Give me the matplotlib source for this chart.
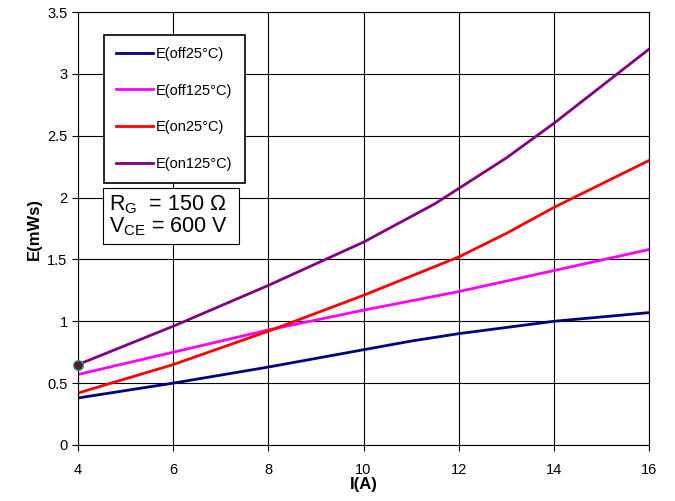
import matplotlib
matplotlib.use("Agg")
import matplotlib.pyplot as plt

plt.rcParams['font.family'] = ['Liberation Sans', 'DejaVu Sans']

# current (A)
i_off25 = [4, 6, 8, 10, 11, 12, 14, 16]
e_off25 = [0.38, 0.50, 0.63, 0.77, 0.84, 0.90, 1.00, 1.07]

i_off125 = [4, 6, 8, 10, 12, 14, 16]
e_off125 = [0.57, 0.75, 0.93, 1.09, 1.24, 1.41, 1.58]

i_on25 = [4, 6, 8, 10, 12, 13, 14, 16]
e_on25 = [0.42, 0.65, 0.92, 1.21, 1.52, 1.71, 1.92, 2.30]

i_on125 = [4, 6, 8, 10, 11.5, 13, 14, 16]
e_on125 = [0.65, 0.96, 1.29, 1.64, 1.95, 2.32, 2.60, 3.20]

labels = ['E(off25°C)', 'E(off125°C)', 'E(on25°C)', 'E(on125°C)']
colors = ['#000080', '#ff00ff', '#ff0000', '#800080']


def main():
    fig = plt.figure(figsize=(6.75, 5.01), dpi=100)
    ax = fig.add_axes([0.1156, 0.1118, 0.8459, 0.8642])

    series = [(i_off25, e_off25), (i_off125, e_off125), (i_on25, e_on25), (i_on125, e_on125)]
    for (x, y), lab, c in zip(series, labels, colors):
        ax.plot(x, y, color=c, lw=2, label=lab)

    # marker at first point of E(on125)
    ax.plot(i_on125[0], e_on125[0], 'o', ms=7, mfc='#5a1a1a', mec='#20a0a0', mew=1,
            clip_on=False, zorder=5)

    ax.set_xlim(4, 16)
    ax.set_ylim(0, 3.5)
    ax.set_xticks([4, 6, 8, 10, 12, 14, 16])
    ax.set_yticks([0, 0.5, 1, 1.5, 2, 2.5, 3, 3.5])
    ax.set_yticklabels(['0', '0.5', '1', '1.5', '2', '2.5', '3', '3.5'])
    ax.grid(True, color='black', lw=0.8)
    ax.tick_params(labelsize=10.5, direction='out', length=4, width=0.8)
    ax.tick_params(axis='x', pad=9)
    for s in ax.spines.values():
        s.set_linewidth(0.8)

    ax.set_xlabel('I(A)', fontsize=12, fontweight='bold', labelpad=0)
    ax.set_ylabel('E(mWs)', fontsize=12, fontweight='bold', labelpad=4)

    leg = ax.legend(loc='upper left', bbox_to_anchor=(0.045, 0.948), fontsize=10.5,
                    fancybox=False, edgecolor='black', framealpha=1,
                    labelspacing=1.55, handlelength=2.5, handletextpad=0.25,
                    borderpad=0.85, borderaxespad=0)
    leg.get_frame().set_linewidth(1.2)

    ax.text(0.054, 0.58, 'R$_\\mathregular{G}$  = 150 Ω  \nV$_\\mathregular{CE}$ = 600 V',
            transform=ax.transAxes, fontsize=15.5, va='top', ha='left', linespacing=0.95,
            bbox=dict(boxstyle='square,pad=0.28', fc='white', ec='black', lw=0.8))

    fig.savefig('out.png', dpi=100)


if __name__ == "__main__":
    main()
